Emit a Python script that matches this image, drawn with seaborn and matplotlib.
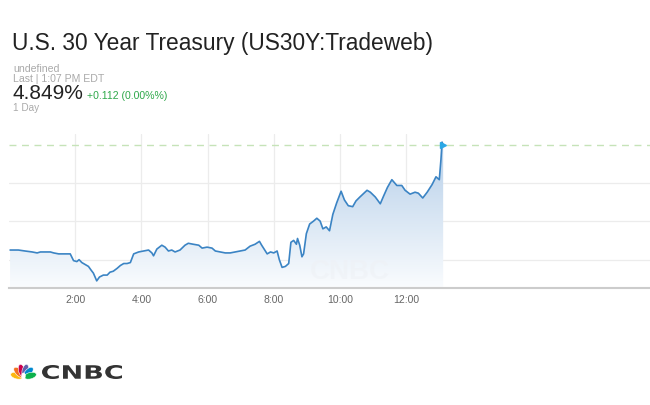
import numpy as np
import pandas as pd
import matplotlib
matplotlib.use("Agg")
import matplotlib.pyplot as plt
from matplotlib.patches import Ellipse, Polygon, PathPatch
from matplotlib.textpath import TextPath
from matplotlib.font_manager import FontProperties
from matplotlib.transforms import Affine2D
import seaborn as sns

# intraday yield (minutes since midnight, %)
minutos = [2, 17, 29, 42, 51, 57, 66, 75, 81, 90, 105, 111, 117, 123, 127, 132, 138, 144,
           149, 153, 159, 164, 171, 178, 183, 189, 196, 202, 208, 214, 220, 226, 235, 244,
           253, 259, 262, 268, 277, 283, 289, 295, 301, 310, 319, 325, 334, 344, 350, 359,
           368, 374, 383, 392, 401, 410, 419, 428, 437, 446, 454, 458, 468, 474, 480, 486,
           490, 495, 501, 507, 511, 516, 521, 523, 527, 531, 534, 539, 545, 552, 558, 564,
           569, 575, 581, 587, 594, 602, 608, 615, 623, 629, 636, 649, 655, 664, 673, 679,
           686, 694, 703, 712, 718, 727, 736, 742, 750, 758, 767, 774, 780, 783, 785, 787]
rendimento = [4.740, 4.740, 4.739, 4.738, 4.737, 4.738, 4.738, 4.738, 4.737, 4.736, 4.736,
              4.736, 4.729, 4.728, 4.730, 4.727, 4.725, 4.723, 4.719, 4.716, 4.708, 4.712,
              4.714, 4.714, 4.717, 4.718, 4.721, 4.724, 4.726, 4.726, 4.727, 4.736, 4.738,
              4.739, 4.740, 4.737, 4.734, 4.741, 4.745, 4.743, 4.739, 4.740, 4.738, 4.740,
              4.745, 4.747, 4.746, 4.745, 4.742, 4.743, 4.742, 4.739, 4.738, 4.737, 4.737,
              4.738, 4.739, 4.740, 4.744, 4.746, 4.749, 4.745, 4.736, 4.738, 4.737, 4.739,
              4.730, 4.722, 4.723, 4.726, 4.748, 4.750, 4.746, 4.752, 4.745, 4.733, 4.736,
              4.757, 4.767, 4.770, 4.773, 4.770, 4.762, 4.764, 4.760, 4.777, 4.789, 4.801,
              4.792, 4.786, 4.785, 4.791, 4.795, 4.802, 4.800, 4.795, 4.788, 4.796, 4.805,
              4.813, 4.807, 4.807, 4.802, 4.798, 4.800, 4.799, 4.794, 4.800, 4.808, 4.816,
              4.813, 4.834, 4.852, 4.849]
ultimo = 4.849
ticks_x = [2, 4, 6, 8, 10, 12]
ticks_y = [4.73, 4.77, 4.81]

df = pd.DataFrame({"hora": np.array(minutos) / 60, "rendimento": rendimento})

sns.set_style("white")
plt.rcParams["font.family"] = ["Liberation Sans", "DejaVu Sans"]

fig = plt.figure(figsize=(6.5, 4.06), dpi=100)
ax = fig.add_axes([9 / 650, (406 - 289) / 406, 641 / 650, (289 - 135) / 406])

ymin, ymax = 4.7006, 4.8604
xmax = 641 / 33.1
ax.set_xlim(0, xmax)
ax.set_ylim(ymin, ymax)

# gradient fill under the line
grad = np.linspace(0, 1, 256).reshape(-1, 1)
cmap = matplotlib.colors.LinearSegmentedColormap.from_list("g", ["#fafcfe", "#b6cfe9"])
img = ax.imshow(grad, cmap=cmap, aspect="auto", origin="lower",
                extent=[0, xmax, ymin, ultimo], zorder=1)
verts = [(df.hora.iloc[0], ymin)] + list(zip(df.hora, df.rendimento)) + [(df.hora.iloc[-1], ymin)]
poly = Polygon(verts, closed=True, facecolor="none", edgecolor="none")
ax.add_patch(poly)
img.set_clip_path(poly)

# faint watermark
ax.text(10.3, 4.7185, "CNBC", fontsize=20, fontweight="bold", color="#eef1f5",
        ha="center", va="center", zorder=2, alpha=0.5)

sns.lineplot(data=df, x="hora", y="rendimento", ax=ax, color="#3b84c4", lw=1.2, zorder=3)
ax.axhline(ultimo, color="#c6e3b8", lw=1, ls=(0, (5, 4)), zorder=2)
ax.plot([df.hora.iloc[-1]], [ultimo], marker=">", color="#2aa8e6", ms=4, zorder=4)

ax.set_xticks(ticks_x)
ax.set_xticklabels([f"{h}:00" for h in ticks_x], color="#666666", fontsize=7.5)
ax.set_yticks(ticks_y)
ax.set_yticklabels([])
ax.tick_params(length=0, pad=4)
ax.grid(True, color="#ececec", lw=0.9, zorder=0)
ax.set_axisbelow(True)
ax.set_xlabel("")
ax.set_ylabel("")
for s in ["top", "left", "right"]:
    ax.spines[s].set_visible(False)
ax.spines["bottom"].set_color("#cccccc")
ax.spines["bottom"].set_linewidth(1.5)

# header texts
fig.text(12 / 650, 1 - 50 / 406, "U.S. 30 Year Treasury (US30Y:Tradeweb)",
         fontsize=16.4, color="#222222")
fig.text(13 / 650, 1 - 72 / 406, "undefined", fontsize=7.6, color="#aaaaaa")
fig.text(13 / 650, 1 - 82.5 / 406, "Last | 1:07 PM EDT", fontsize=7.6, color="#aaaaaa")
fig.text(12 / 650, 1 - 99 / 406, "4.849%", fontsize=15, color="#222222")
fig.text(87 / 650, 1 - 99 / 406, "+0.112 (0.00%%)", fontsize=7.6, color="#2ea84a")
fig.text(13 / 650, 1 - 111 / 406, "1 Day", fontsize=7.2, color="#aaaaaa")

# CNBC logo
lax = fig.add_axes([9 / 650, (406 - 381) / 406, 29 / 650, 18 / 406])
lax.set_xlim(-1.15, 1.15)
lax.set_ylim(-0.2, 1.2)
lax.axis("off")
penas = ["#fcb711", "#f37021", "#cc004c", "#6460aa", "#0089d0", "#0db14b"]
angulos = [166, 134, 105, 75, 46, 14]
for c, a in zip(penas, angulos):
    r = np.deg2rad(a)
    lax.add_patch(Ellipse((0.55 * np.cos(r), 0.55 * np.sin(r)), 1.0, 0.5,
                          angle=a, facecolor=c, edgecolor="white", lw=0.4))
lax.add_patch(Ellipse((0, 0.12), 0.35, 0.5, facecolor="white", lw=0))

tp = TextPath((0, 0), "CNBC", size=1, prop=FontProperties(family="DejaVu Sans", weight="bold"))
ext = tp.get_extents()
sx = (80 / 650) / ext.width
sy = (14 / 406) / ext.height
tr = Affine2D().translate(-ext.x0, -ext.y0).scale(sx, sy).translate(42 / 650, 1 - 380 / 406)
fig.add_artist(PathPatch(tp, transform=tr + fig.transFigure, facecolor="#333333", lw=0))

fig.savefig("out.png", dpi=100)
